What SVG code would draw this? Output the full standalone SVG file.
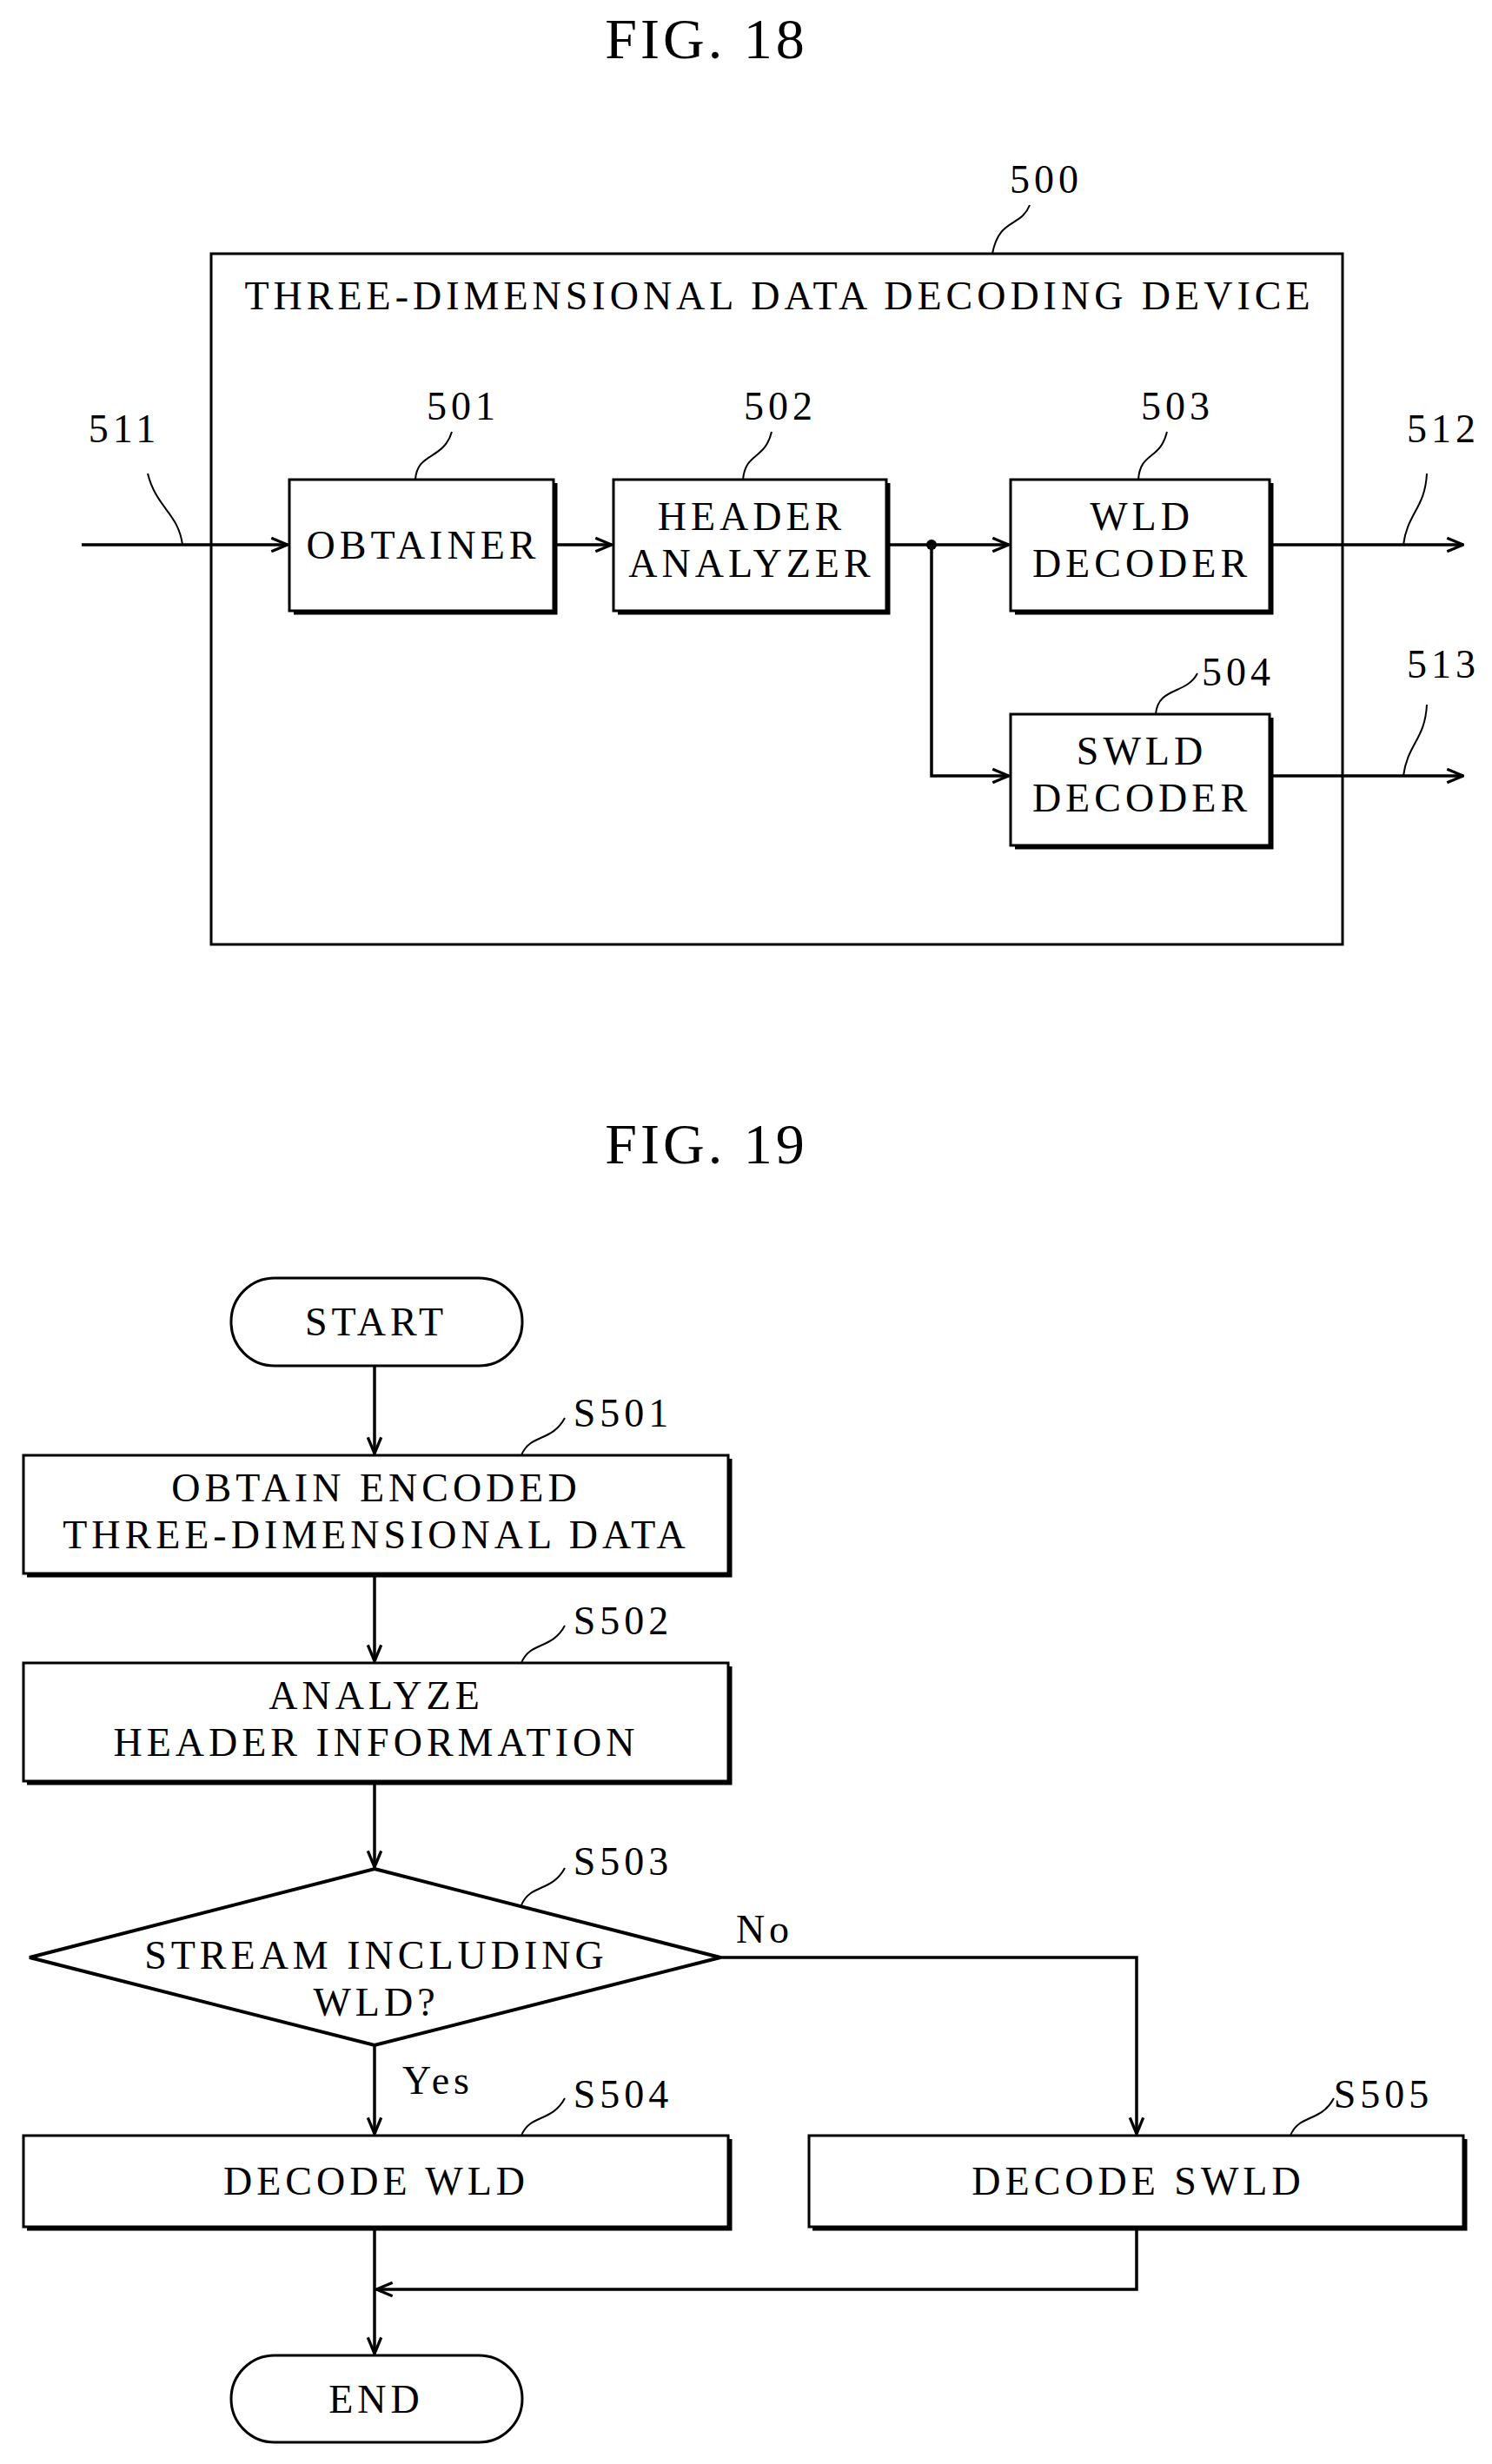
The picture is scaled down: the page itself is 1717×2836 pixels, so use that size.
<svg xmlns="http://www.w3.org/2000/svg" width="1717" height="2836" viewBox="0 0 1717 2836">
<style>
text{font-family:"Liberation Serif","DejaVu Serif",serif;fill:#000;text-anchor:middle}
.t{font-size:46px;letter-spacing:5px}
.f{font-size:66px;letter-spacing:4px}
.box{fill:#fff;stroke:#000;stroke-width:3}
.sh{fill:none;stroke:#000;stroke-width:5}
.ln{fill:none;stroke:#000;stroke-width:3.5}
.ld{fill:none;stroke:#000;stroke-width:2}
</style>
<defs>
<marker id="a" viewBox="0 0 20 20" refX="19" refY="10" markerWidth="22" markerHeight="22" markerUnits="userSpaceOnUse" orient="auto">
<path d="M2,3 L19,10 L2,17" fill="none" stroke="#000" stroke-width="3"/>
</marker>
</defs>
<rect width="1717" height="2836" fill="#fff"/>
<text class="f" x="813" y="67">FIG. 18</text>
<text class="f" x="813" y="1339">FIG. 19</text>

<g id="n500">
<rect class="box" x="243" y="292" width="1302" height="795"/>
<text class="t" x="897" y="356">THREE-DIMENSIONAL DATA DECODING DEVICE</text>
<text class="t" x="1204" y="222">500</text>
<path class="ld" d="M1142,292 C1150,250 1175,262 1185,236"/>
</g>
<g id="n501">
<path class="sh" d="M338,705 H639 V556"/>
<rect class="box" x="333" y="552" width="304" height="151"/>
<text class="t" x="487" y="643">OBTAINER</text>
<text class="t" x="533" y="483">501</text>
<path class="ld" d="M478,552 C480,520 510,530 520,497"/>
</g>
<g id="n502">
<path class="sh" d="M711,705 H1022 V556"/>
<rect class="box" x="706" y="552" width="314" height="151"/>
<text class="t" x="865" y="610">HEADER</text>
<text class="t" x="865" y="664">ANALYZER</text>
<text class="t" x="898" y="483">502</text>
<path class="ld" d="M855,552 C858,520 880,530 888,497"/>
</g>
<g id="n503">
<path class="sh" d="M1168,705 H1463 V556"/>
<rect class="box" x="1163" y="552" width="298" height="151"/>
<text class="t" x="1314" y="610">WLD</text>
<text class="t" x="1314" y="664">DECODER</text>
<text class="t" x="1355" y="483">503</text>
<path class="ld" d="M1310,552 C1312,520 1335,530 1343,497"/>
</g>
<g id="n504">
<path class="sh" d="M1168,975 H1463 V826"/>
<rect class="box" x="1163" y="822" width="298" height="151"/>
<text class="t" x="1314" y="880">SWLD</text>
<text class="t" x="1314" y="934">DECODER</text>
<text class="t" x="1425" y="789">504</text>
<path class="ld" d="M1330,822 C1333,790 1365,800 1378,775"/>
</g>
<g id="labels18">
<text class="t" x="143" y="509">511</text>
<path class="ld" d="M210,627 C205,590 180,585 170,545"/>
<text class="t" x="1661" y="509">512</text>
<path class="ld" d="M1615,627 C1620,590 1640,585 1642,545"/>
<text class="t" x="1661" y="780">513</text>
<path class="ld" d="M1615,893 C1620,856 1640,851 1642,811"/>
</g>

<g id="start">
<rect class="box" x="266" y="1471" width="335" height="101" rx="50"/>
<text class="t" x="433" y="1537">START</text>
</g>
<g id="s501">
<path class="sh" d="M31,1813 H840 V1679"/>
<rect class="box" x="27" y="1675" width="811" height="136"/>
<text class="t" x="433" y="1728">OBTAIN ENCODED</text>
<text class="t" x="433" y="1782">THREE-DIMENSIONAL DATA</text>
<text class="t" x="717" y="1642">S501</text>
<path class="ld" d="M600,1675 C610,1650 635,1660 650,1632"/>
</g>
<g id="s502">
<path class="sh" d="M31,2052 H840 V1918"/>
<rect class="box" x="27" y="1914" width="811" height="136"/>
<text class="t" x="433" y="1967">ANALYZE</text>
<text class="t" x="433" y="2021">HEADER INFORMATION</text>
<text class="t" x="717" y="1881">S502</text>
<path class="ld" d="M600,1914 C610,1889 635,1899 650,1871"/>
</g>
<g id="s503">
<polygon points="431,2151 829,2253 431,2354 34,2253" fill="#fff" stroke="#000" stroke-width="4"/>
<text class="t" x="433" y="2266">STREAM INCLUDING</text>
<text class="t" x="433" y="2320">WLD?</text>
<text class="t" x="717" y="2158">S503</text>
<path class="ld" d="M600,2193 C610,2168 635,2178 650,2150"/>
</g>
<g id="s504">
<path class="sh" d="M31,2565 H840 V2462"/>
<rect class="box" x="27" y="2458" width="811" height="105"/>
<text class="t" x="433" y="2526">DECODE WLD</text>
<text class="t" x="717" y="2426">S504</text>
<path class="ld" d="M600,2458 C610,2433 635,2443 650,2415"/>
</g>
<g id="s505">
<path class="sh" d="M935,2565 H1686 V2462"/>
<rect class="box" x="931" y="2458" width="753" height="105"/>
<text class="t" x="1310" y="2526">DECODE SWLD</text>
<text class="t" x="1592" y="2426">S505</text>
<path class="ld" d="M1485,2458 C1495,2433 1520,2443 1535,2415"/>
</g>
<g id="end">
<rect class="box" x="266" y="2711" width="335" height="100" rx="50"/>
<text class="t" x="433" y="2777">END</text>
</g>

<g id="connectors">
<path class="ln" d="M94,627 H331" marker-end="url(#a)"/>
<path class="ln" d="M637,627 H704" marker-end="url(#a)"/>
<path class="ln" d="M1020,627 H1161" marker-end="url(#a)"/>
<path class="ln" d="M1072,627 V893 H1161" marker-end="url(#a)"/>
<circle cx="1072" cy="627" r="6" fill="#000"/>
<path class="ln" d="M1461,627 H1684" marker-end="url(#a)"/>
<path class="ln" d="M1461,893 H1684" marker-end="url(#a)"/>

<path class="ln" d="M431,1572 V1673" marker-end="url(#a)"/>
<path class="ln" d="M431,1811 V1912" marker-end="url(#a)"/>
<path class="ln" d="M431,2050 V2149" marker-end="url(#a)"/>
<path class="ln" d="M431,2354 V2456" marker-end="url(#a)"/>
<path class="ln" d="M829,2253 H1308 V2456" marker-end="url(#a)"/>
<path class="ln" d="M431,2563 V2709" marker-end="url(#a)"/>
<path class="ln" d="M1308,2563 V2635 H433" marker-end="url(#a)"/>
<text class="t" x="880" y="2236">No</text>
<text class="t" x="504" y="2410">Yes</text>
</g>
</svg>
